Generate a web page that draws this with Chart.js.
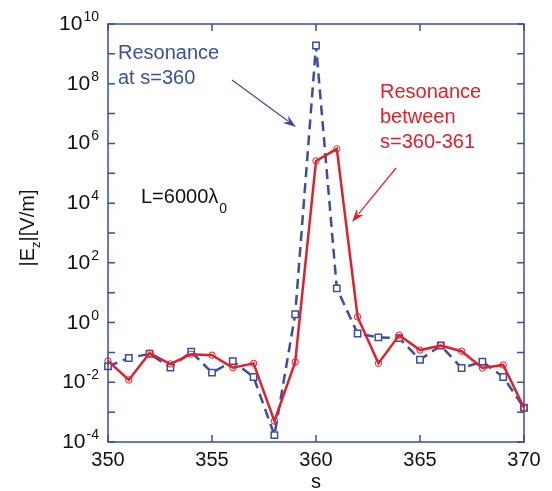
<!DOCTYPE html>
<html lang="en">
<head>
<meta charset="UTF-8">
<title>|Ez| vs s</title>
<script src="https://cdn.jsdelivr.net/npm/chart.js"></script>
<style>
  * { margin: 0; padding: 0; box-sizing: border-box; }
  body { background: #fff; width: 552px; height: 491px; overflow: hidden; }
</style>
</head>
<body>
<canvas id="chart" width="552" height="491"></canvas>
<script>
// data
const sValues = [350, 351, 352, 353, 354, 355, 356, 357, 358, 359, 360,
                 361, 362, 363, 364, 365, 366, 367, 368, 369, 370];
// resonance at s=360 (blue dashed, squares)
const ezAt360 = [0.034, 0.065, 0.09, 0.031, 0.105, 0.021, 0.051, 0.015, 1.7e-4, 1.9, 1.9e9,
                 14, 0.43, 0.32, 0.30, 0.057, 0.17, 0.030, 0.049, 0.015, 1.4e-3];
// resonance between s=360-361 (red solid, circles)
const ezBetween = [0.052, 0.012, 0.095, 0.041, 0.087, 0.081, 0.031, 0.043, 5e-4, 0.048, 2.6e5,
                   6.6e5, 1.55, 0.043, 0.38, 0.12, 0.17, 0.11, 0.030, 0.038, 1.4e-3];
const xTicks = [350, 355, 360, 365, 370];
const yTickExps = [-4, -3, -2, -1, 0, 1, 2, 3, 4, 5, 6, 7, 8, 9, 10];
const yLabelExps = [-4, -2, 0, 2, 4, 6, 8, 10];

const BLUE = '#3a4ea2';
const RED = '#e3202a';
const FONT = '"Liberation Sans", Arial, sans-serif';

function arrow(ctx, x1, y1, x2, y2, color) {
  const a = Math.atan2(y2 - y1, x2 - x1);
  const len = 13, half = 4.5;
  ctx.save();
  ctx.strokeStyle = color;
  ctx.fillStyle = color;
  ctx.lineWidth = 1.2;
  ctx.beginPath();
  ctx.moveTo(x1, y1);
  ctx.lineTo(x2 - Math.cos(a) * len * 0.8, y2 - Math.sin(a) * len * 0.8);
  ctx.stroke();
  ctx.beginPath();
  ctx.moveTo(x2, y2);
  ctx.lineTo(x2 - Math.cos(a) * len - Math.sin(a) * half, y2 - Math.sin(a) * len + Math.cos(a) * half);
  ctx.lineTo(x2 - Math.cos(a) * len * 0.7, y2 - Math.sin(a) * len * 0.7);
  ctx.lineTo(x2 - Math.cos(a) * len + Math.sin(a) * half, y2 - Math.sin(a) * len - Math.cos(a) * half);
  ctx.closePath();
  ctx.fill();
  ctx.restore();
}

const framePlugin = {
  id: 'frame',
  afterDraw(chart) {
    const ctx = chart.ctx;
    const a = chart.chartArea;
    const xs = chart.scales.x, ys = chart.scales.y;
    ctx.save();
    // box
    ctx.strokeStyle = BLUE;
    ctx.lineWidth = 1.5;
    ctx.strokeRect(a.left, a.top, a.right - a.left, a.bottom - a.top);
    // ticks pointing inwards
    ctx.beginPath();
    xTicks.forEach(v => {
      const x = xs.getPixelForValue(v);
      ctx.moveTo(x, a.bottom); ctx.lineTo(x, a.bottom - 7);
      ctx.moveTo(x, a.top); ctx.lineTo(x, a.top + 7);
    });
    yTickExps.forEach(e => {
      const y = ys.getPixelForValue(Math.pow(10, e));
      ctx.moveTo(a.left, y); ctx.lineTo(a.left + 7, y);
      ctx.moveTo(a.right, y); ctx.lineTo(a.right - 7, y);
    });
    ctx.stroke();

    // tick labels
    ctx.fillStyle = '#111';
    ctx.font = '20px ' + FONT;
    ctx.textAlign = 'center';
    ctx.textBaseline = 'alphabetic';
    xTicks.forEach(v => ctx.fillText(String(v), xs.getPixelForValue(v), 466));
    yLabelExps.forEach(e => {
      const y = ys.getPixelForValue(Math.pow(10, e));
      const sup = e < 0 ? '-' + (-e) : String(e);
      ctx.font = '14px ' + FONT;
      const wSup = ctx.measureText(sup).width;
      ctx.font = '21px ' + FONT;
      const wBase = ctx.measureText('10').width;
      const right = 99;
      ctx.textAlign = 'left';
      ctx.fillText('10', right - wSup - wBase - 1, y + 6);
      ctx.font = '14px ' + FONT;
      ctx.fillText(sup, right - wSup, y - 3);
    });

    // axis titles
    ctx.font = '20px ' + FONT;
    ctx.textAlign = 'center';
    ctx.fillText('s', xs.getPixelForValue(360), 488);
    ctx.save();
    ctx.translate(34, 228);
    ctx.rotate(-Math.PI / 2);
    ctx.textAlign = 'left';
    const p1 = '|E', p2 = 'z', p3 = '|[V/m]';
    ctx.font = '20px ' + FONT;
    const w1 = ctx.measureText(p1).width;
    ctx.font = '13px ' + FONT;
    const w2 = ctx.measureText(p2).width;
    ctx.font = '20px ' + FONT;
    const w3 = ctx.measureText(p3).width;
    let x0 = -(w1 + w2 + w3) / 2;
    ctx.fillText(p1, x0, 0);
    ctx.font = '13px ' + FONT;
    ctx.fillText(p2, x0 + w1, 6);
    ctx.font = '20px ' + FONT;
    ctx.fillText(p3, x0 + w1 + w2, 0);
    ctx.restore();

    // annotations
    ctx.textAlign = 'left';
    ctx.font = '20px ' + FONT;
    ctx.fillStyle = BLUE;
    ctx.fillText('Resonance', 118, 59);
    ctx.fillText('at s=360', 118, 84);
    arrow(ctx, 232, 80, 296, 127, BLUE);

    ctx.fillStyle = RED;
    ctx.fillText('Resonance', 380, 98);
    ctx.fillText('between', 380, 123);
    ctx.fillText('s=360-361', 380, 148);
    arrow(ctx, 396, 168, 352, 222, RED);

    ctx.fillStyle = '#111';
    ctx.font = '20px ' + FONT;
    const lt = 'L=6000\u03bb';
    ctx.fillText(lt, 141, 203);
    const wl = ctx.measureText(lt).width;
    ctx.font = '14px ' + FONT;
    ctx.fillText('0', 141 + wl + 1, 213);
    ctx.restore();
  }
};

new Chart(document.getElementById('chart'), {
  type: 'line',
  data: {
    datasets: [
      {
        label: 'Resonance between s=360-361',
        data: sValues.map((s, i) => ({ x: s, y: ezBetween[i] })),
        borderColor: RED,
        borderWidth: 2.5,
        pointStyle: 'circle',
        pointRadius: 3.2,
        pointBorderWidth: 1,
        pointBackgroundColor: 'rgba(255,255,255,0)',
        pointBorderColor: RED,
        tension: 0,
        clip: false
      },
      {
        label: 'Resonance at s=360',
        data: sValues.map((s, i) => ({ x: s, y: ezAt360[i] })),
        borderColor: BLUE,
        borderWidth: 2.5,
        borderDash: [10, 6],
        pointStyle: 'rect',
        pointRadius: 4.5,
        pointBorderWidth: 1.5,
        pointBackgroundColor: '#fff',
        pointBorderColor: BLUE,
        tension: 0,
        clip: false
      }
    ]
  },
  options: {
    responsive: false,
    animation: false,
    layout: { padding: { left: 108, right: 28, top: 24, bottom: 49 } },
    plugins: { legend: { display: false }, tooltip: { enabled: false } },
    scales: {
      x: { type: 'linear', min: 350, max: 370, display: false },
      y: { type: 'logarithmic', min: 1e-4, max: 1e10, display: false }
    }
  },
  plugins: [framePlugin]
});
</script>
</body>
</html>
